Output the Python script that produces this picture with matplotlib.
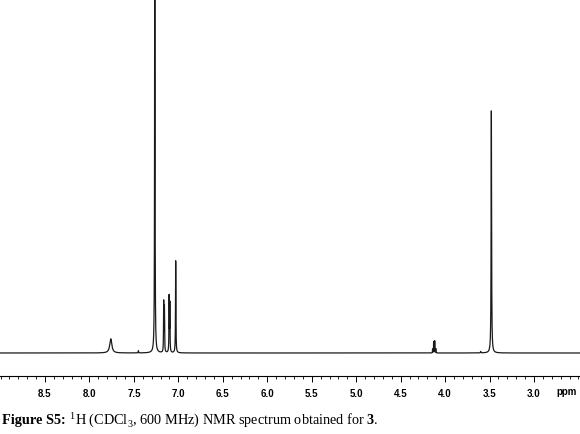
import numpy as np
import matplotlib
matplotlib.use("Agg")
import matplotlib.pyplot as plt

# peak list: shift (ppm), height (arb.), half width (ppm)
shifts = [7.76, 7.45, 7.265, 7.165, 7.157, 7.104, 7.096, 7.030,
          4.141, 4.129, 4.117, 4.105, 3.60, 3.480]
heights = [4.0, 0.6, 140.0, 14.0, 12.5, 15.5, 13.5, 26.0,
           1.1, 3.2, 3.4, 1.2, 0.4, 68.4]
widths = [0.014, 0.002, 0.0025, 0.0022, 0.0022, 0.0022, 0.0022, 0.0025,
          0.0015, 0.0015, 0.0015, 0.0015, 0.003, 0.003]

major_ticks = [8.5, 8.0, 7.5, 7.0, 6.5, 6.0, 5.5, 5.0, 4.5, 4.0, 3.5, 3.0]
tick_labels = ["8.5", "8.0", "7.5", "7.0", "6.5", "6.0", "5.5", "5.0", "4.5", "4.0", "3.5", "3.0"]

# caption pieces (text, weight)
caption = [("Figure S5:", "bold"),
           (r" $^{1}$H (CDCl$_{3}$, 600 MHz) NMR spectrum obtained for ", "normal"),
           ("3", "bold"),
           (".", "normal")]

# spectrum = sum of lorentzian lines
ppm = np.linspace(9.05, 2.45, 40000)
spec = np.zeros_like(ppm)
for s, h, w in zip(shifts, heights, widths):
    spec += h * w**2 / ((ppm - s)**2 + w**2)

plt.rcParams['mathtext.fontset'] = 'custom'
plt.rcParams['mathtext.rm'] = 'Liberation Serif'

fig = plt.figure(figsize=(5.8, 4.35), dpi=100)
ax = fig.add_axes([0.0, 1 - 377 / 435, 1.0, 377 / 435])
ax.plot(ppm, spec, color='#1a1a1a', linewidth=0.9)

ax.set_xlim(9.006, 2.483)
ax.set_ylim(-6.5, 100)
for side in ['top', 'left', 'right']:
    ax.spines[side].set_visible(False)
ax.spines['bottom'].set_linewidth(0.8)
ax.set_yticks([])

ax.set_xticks(major_ticks)
ax.set_xticklabels(tick_labels, fontsize=7, fontweight='bold', family='Liberation Sans')
ax.set_xticks(np.arange(9.0, 2.45, -0.1), minor=True)
ax.tick_params(axis='x', which='major', direction='out', length=4, width=0.7, pad=5)
ax.tick_params(axis='x', which='minor', direction='out', length=2, width=0.6)

fig.text(567 / 580, 1 - 392 / 435, "ppm", fontsize=7, fontweight='bold',
         family='Liberation Sans', ha='center', va='center')

# caption drawn piece by piece so bold and normal parts sit side by side
renderer = fig.canvas.get_renderer()
x = 2.0
for txt, weight in caption:
    t = fig.text(x / 580, 1 - 424 / 435, txt, fontsize=10.3, fontweight=weight,
                 family='Liberation Serif', ha='left', va='baseline')
    x += t.get_window_extent(renderer).width + (2 if txt.endswith(" ") else 0)

fig.savefig("out.png", dpi=100)
